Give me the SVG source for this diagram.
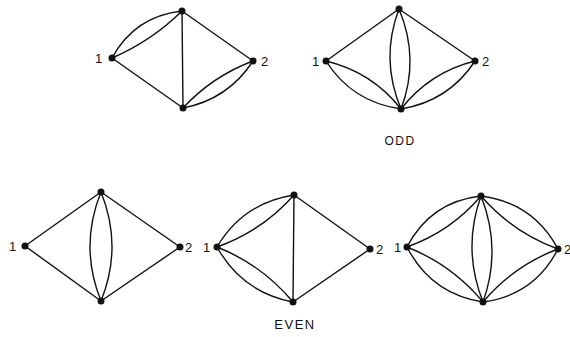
<svg xmlns="http://www.w3.org/2000/svg" width="570" height="337" viewBox="0 0 570 337">
<style>
.e{fill:none;stroke:#111;stroke-width:1.4}
.n{fill:#111}
.l{font-family:"Liberation Sans",Arial,sans-serif;font-size:13px;fill:#111}
.t{font-family:"Liberation Sans",Arial,sans-serif;font-size:12px;fill:#111;letter-spacing:1.5px}
</style>
<rect width="570" height="337" fill="#fff"/>
<g id="connectors">
<!-- graph 1 -->
<path class="e" d="M112,58 Q134.7,16.2 182,11"/>
<path class="e" d="M112,58 Q151.5,41.1 182,11"/>
<path class="e" d="M182,11 L253,61"/>
<path class="e" d="M112,58 L183,108"/>
<path class="e" d="M182,11 L183,108"/>
<path class="e" d="M183,108 Q228,99.4 253,61"/>
<path class="e" d="M183,108 Q212.4,76.2 253,61"/>
<!-- graph 2 -->
<path class="e" d="M326,61 L399,9"/>
<path class="e" d="M399,9 L475,61"/>
<path class="e" d="M399,9 Q380,59 401,109"/>
<path class="e" d="M399,9 Q420,59 401,109"/>
<path class="e" d="M326,61 Q352,102 401,109"/>
<path class="e" d="M326,61 Q372,72 401,109"/>
<path class="e" d="M401,109 Q449,101 475,61"/>
<path class="e" d="M401,109 Q430,72 475,61"/>
<!-- graph 3 -->
<path class="e" d="M25,246 L101,192"/>
<path class="e" d="M101,192 L180,247"/>
<path class="e" d="M25,246 L101,301"/>
<path class="e" d="M101,301 L180,247"/>
<path class="e" d="M101,192 Q79,246.5 101,301"/>
<path class="e" d="M101,192 Q123,246.5 101,301"/>
<!-- graph 4 -->
<path class="e" d="M217,247 Q243.2,202.8 294,195"/>
<path class="e" d="M217,247 Q262.2,231 294,195"/>
<path class="e" d="M217,247 Q242.1,292.3 293,302"/>
<path class="e" d="M217,247 Q262,264.8 293,302"/>
<path class="e" d="M294,195 L293,302"/>
<path class="e" d="M294,195 L370,249"/>
<path class="e" d="M293,302 L370,249"/>
<!-- graph 5 -->
<path class="e" d="M407,247 Q430.4,201.7 481,196"/>
<path class="e" d="M407,247 Q450.8,231.4 481,196"/>
<path class="e" d="M481,196 Q533.1,202.7 558,249"/>
<path class="e" d="M481,196 Q512.7,232.4 558,249"/>
<path class="e" d="M407,247 Q430.9,293.9 483,302"/>
<path class="e" d="M407,247 Q452,264.8 483,302"/>
<path class="e" d="M483,302 Q534.4,295.1 558,249"/>
<path class="e" d="M483,302 Q513.6,265.7 558,249"/>
<path class="e" d="M481,196 Q462,249 483,302"/>
<path class="e" d="M481,196 Q502,249 483,302"/>
</g>
<g id="graph1">
<circle class="n" cx="112" cy="58" r="3.5"/><circle class="n" cx="182" cy="11" r="3.5"/>
<circle class="n" cx="253" cy="61" r="3.5"/><circle class="n" cx="183" cy="108" r="3.5"/>
<text class="l" x="95" y="63">1</text><text class="l" x="261" y="66">2</text>
</g>
<g id="graph2">
<circle class="n" cx="326" cy="61" r="3.5"/><circle class="n" cx="399" cy="9" r="3.5"/>
<circle class="n" cx="475" cy="61" r="3.5"/><circle class="n" cx="401" cy="109" r="3.5"/>
<text class="l" x="312" y="66">1</text><text class="l" x="482" y="66">2</text>
</g>
<g id="graph3">
<circle class="n" cx="25" cy="246" r="3.5"/><circle class="n" cx="101" cy="192" r="3.5"/>
<circle class="n" cx="180" cy="247" r="3.5"/><circle class="n" cx="101" cy="301" r="3.5"/>
<text class="l" x="9" y="251">1</text><text class="l" x="185" y="252">2</text>
</g>
<g id="graph4">
<circle class="n" cx="217" cy="247" r="3.5"/><circle class="n" cx="294" cy="195" r="3.5"/>
<circle class="n" cx="370" cy="249" r="3.5"/><circle class="n" cx="293" cy="302" r="3.5"/>
<text class="l" x="203" y="252">1</text><text class="l" x="376" y="254">2</text>
</g>
<g id="graph5">
<circle class="n" cx="407" cy="247" r="3.5"/><circle class="n" cx="481" cy="196" r="3.5"/>
<circle class="n" cx="558" cy="249" r="3.5"/><circle class="n" cx="483" cy="302" r="3.5"/>
<text class="l" x="394" y="252">1</text><text class="l" x="564" y="254">2</text>
</g>
<g id="labels">
<text class="t" x="400" y="145" text-anchor="middle">ODD</text>
<text class="t" x="295" y="329" text-anchor="middle" style="font-size:13px">EVEN</text>
</g>
</svg>
